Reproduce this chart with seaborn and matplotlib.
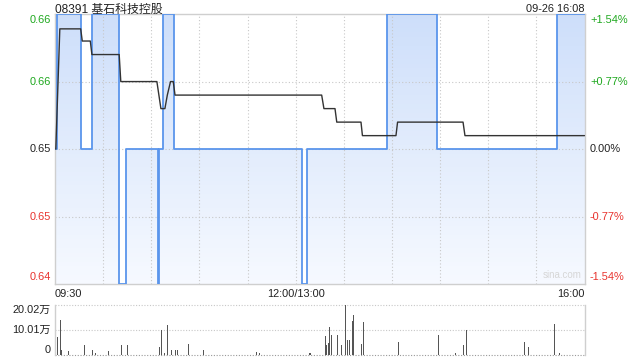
import numpy as np
import matplotlib
matplotlib.use("Agg")
import matplotlib.pyplot as plt
import matplotlib.transforms as mtransforms
from matplotlib.colors import LinearSegmentedColormap
import seaborn as sns

# ---------------- data ----------------
title = "08391 基石科技控股"
stamp = "09-26 16:08"
prev_close = 0.65
price_ticks = [0.64, 0.645, 0.65, 0.655, 0.66]
price_labels = ["0.64", "0.65", "0.65", "0.66", "0.66"]
pct_labels = ["-1.54%", "-0.77%", "0.00%", "+0.77%", "+1.54%"]
time_labels = ["09:30", "12:00/13:00", "16:00"]
time_label_pos = [0, 150, 330]   # minutes of trading session (lunch removed)

# traded price (step changes), minutes since 09:30
price_t = [0, 1, 16, 23, 40, 44, 64, 65, 67, 74, 154, 157, 207, 238, 313, 330]
price_v = [0.65, 0.66, 0.65, 0.66, 0.64, 0.65, 0.64, 0.65, 0.66, 0.65,
           0.64, 0.65, 0.66, 0.65, 0.66, 0.66]

# average price
avg_t = [0.5, 3, 16, 17, 22, 23, 40, 41, 63.5, 66, 68.5, 70, 72, 73.7, 74.8,
         166.2, 167.6, 174.5, 175.6, 190.7, 191.6, 212.5, 213.5, 254.3, 255.5, 330]
avg_v = [0.650, 0.6589, 0.6589, 0.6580, 0.6580, 0.6570, 0.6570, 0.6550, 0.6550,
         0.6530, 0.6530, 0.6540, 0.6550, 0.6550, 0.6540, 0.6540, 0.6530, 0.6530,
         0.6520, 0.6520, 0.6510, 0.6510, 0.6520, 0.6520, 0.6510, 0.6510]

# volume (万股)
vol_t = [1, 3, 4, 8, 18, 23, 25, 33, 41, 45, 65, 66, 68, 70, 72, 75, 76, 83, 92,
         125, 127, 158, 159, 168, 169, 170, 171, 172, 176, 178, 181, 182, 183,
         185, 186, 191, 192, 214, 239, 249, 254, 256, 292, 295, 311, 314]
vol_v = [7.2, 14.0, 2.0, 1.6, 4.0, 2.0, 0.8, 1.6, 4.0, 4.0, 3.2, 10.0, 0.8, 12.0,
         2.0, 2.0, 2.0, 4.4, 2.0, 1.2, 0.8, 1.0, 1.0, 7.6, 4.0, 4.8, 11.2, 8.0,
         8.0, 4.0, 20.02, 6.0, 6.0, 13.7, 16.0, 4.4, 13.2, 5.2, 8.0, 0.8, 4.0,
         10.0, 5.2, 3.2, 12.4, 1.0]
vol_ticks = [0, 10.01, 20.02]
vol_labels = ["0", "10.01万", "20.02万"]

# ---------------- style ----------------
sns.set_style("white")
plt.rcParams["font.family"] = ["Liberation Sans", "Noto Sans CJK SC", "DejaVu Sans"]

GREEN = "#1ea81e"
RED = "#e8322d"
BLACK = "#222222"
GRID = "#c8c8c8"
FRAME = "#cfcfcf"
BLUE = "#5a95ec"
FS = 7.9

fig = plt.figure(figsize=(6.4, 3.6), dpi=100)
ax = fig.add_axes([55 / 640, 1 - 284.3 / 360, 529.5 / 640, 270.3 / 360])
axv = fig.add_axes([55 / 640, 1 - 355 / 360, 529.5 / 640, 50 / 360])

lo, hi = price_ticks[0], price_ticks[-1]
ax.set_xlim(0, 330)
ax.set_ylim(lo, hi)

# grid
for t in range(30, 330, 30):
    ax.axvline(t, color=GRID, lw=0.8, ls=(0, (1, 2)), zorder=2)
for p in price_ticks[1:-1]:
    ax.axhline(p, color=GRID, lw=0.8, ls=(0, (1, 2)), zorder=2)

# gradient fill under price line, drawn as thin horizontal bands
cmap = LinearSegmentedColormap.from_list("g", ["#f6f9ff", "#e2ecfc", "#cddefa"])
pv = np.asarray(price_v)
edges = np.linspace(lo, hi, 61)
for b0, b1 in zip(edges[:-1], edges[1:]):
    top = np.clip(pv, b0, b1)
    c = cmap((0.5 * (b0 + b1) - lo) / (hi - lo))
    ax.fill_between(price_t, b0, top, step="post", facecolor=c, lw=0,
                    antialiased=False, zorder=1)

sns.lineplot(x=price_t, y=price_v, ax=ax, estimator=None, sort=False,
             drawstyle="steps-post", color=BLUE, lw=1.3, zorder=3)
sns.lineplot(x=avg_t, y=avg_v, ax=ax, estimator=None, sort=False,
             color="#333333", lw=1.0, zorder=4)

ax.set_xticks([])
ax.set_yticks([])
ax.set_xlabel("")
ax.set_ylabel("")
for s in ax.spines.values():
    s.set_color(FRAME)
    s.set_linewidth(1)

# y labels (left price, right percent)
btl = mtransforms.blended_transform_factory(ax.transAxes, ax.transData)
colors = [RED, RED, BLACK, GREEN, GREEN]
n = len(price_ticks)
for i, (p, lab, pct, c) in enumerate(zip(price_ticks, price_labels, pct_labels, colors)):
    if i == 0:
        off = mtransforms.ScaledTranslation(0, 7 / 100, fig.dpi_scale_trans)
    elif i == n - 1:
        off = mtransforms.ScaledTranslation(0, -6 / 100, fig.dpi_scale_trans)
    else:
        off = mtransforms.ScaledTranslation(0, 0, fig.dpi_scale_trans)
    ax.text(-4 / 529.5, p, lab, transform=btl + off, ha="right", va="center",
            color=c, fontsize=FS)
    ax.text(1 + 5.5 / 529.5, p, pct, transform=btl + off, ha="left", va="center",
            color=c, fontsize=FS)

# time labels
ys = 1 - 297 / 360
fig.text(55 / 640, ys, time_labels[0], ha="left", va="baseline", fontsize=FS, color=BLACK)
xm = ax.transData.transform((time_label_pos[1], lo))[0] / fig.bbox.width
fig.text(xm, ys, time_labels[1], ha="center", va="baseline", fontsize=FS, color=BLACK)
fig.text(584.5 / 640, ys, time_labels[2], ha="right", va="baseline", fontsize=FS, color=BLACK)

# title and stamp
fig.text(55 / 640, 1 - 12.5 / 360, title, ha="left", va="baseline", fontsize=8.6, color=BLACK)
fig.text(584.5 / 640, 1 - 12.2 / 360, stamp, ha="right", va="baseline", fontsize=FS, color=BLACK)
ax.text(0.995, 0.015, "sina.com", transform=ax.transAxes, ha="right", va="bottom",
        fontsize=7, color="#d6d6d6")

# ---------------- volume ----------------
axv.set_xlim(0, 330)
axv.set_ylim(0, vol_ticks[-1])
axv.vlines(vol_t, 0, vol_v, color="#555555", lw=0.72, antialiased=False, zorder=3)
for v in vol_ticks:
    axv.axhline(v, color=GRID if v > 0 else "#999999", lw=0.8,
                ls=(0, (1, 1.5)), zorder=1, clip_on=False)
axv.set_xticks([])
axv.set_yticks([])
for k in ["top", "bottom"]:
    axv.spines[k].set_visible(False)
for k in ["left", "right"]:
    axv.spines[k].set_color(FRAME)
    axv.spines[k].set_linewidth(1)
btv = mtransforms.blended_transform_factory(axv.transAxes, axv.transData)
vas = ["bottom", "center", "top"]
for v, lab, va in zip(vol_ticks, vol_labels, vas):
    axv.text(-4 / 529.5, v, lab, transform=btv, ha="right", va=va,
             fontsize=FS, color=BLACK)

fig.savefig("out.png", dpi=100)
